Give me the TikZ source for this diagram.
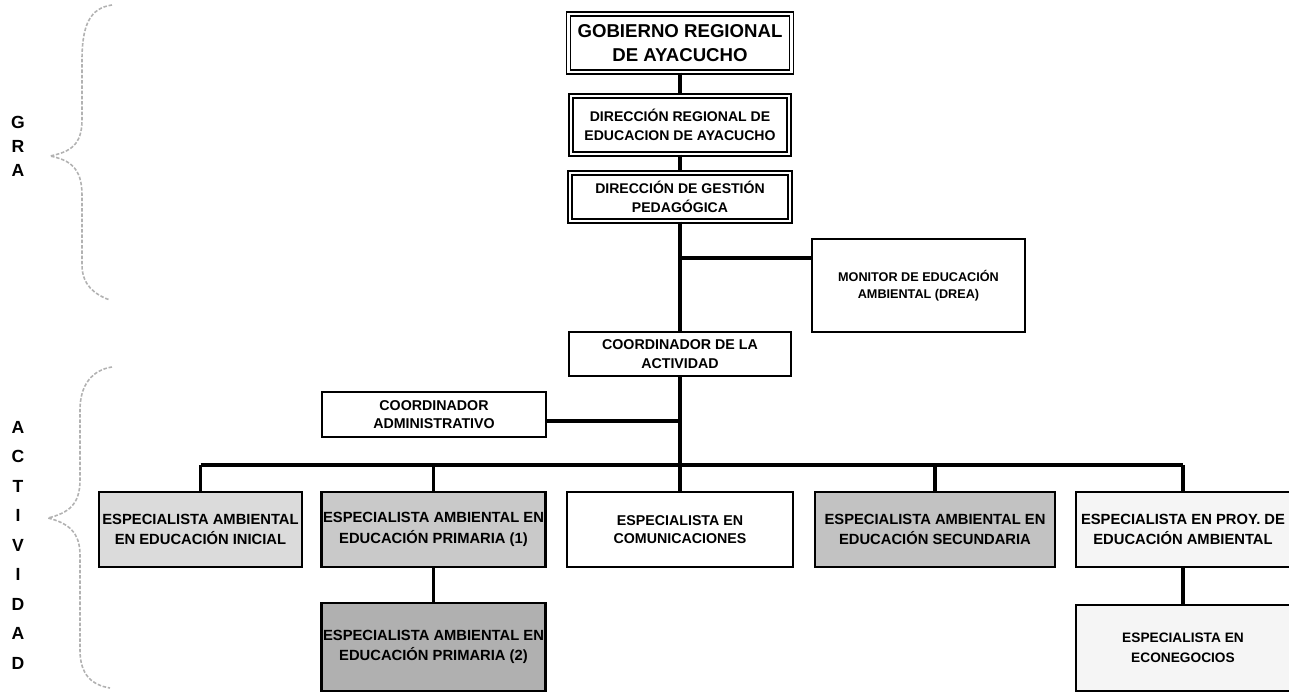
\documentclass[tikz,border=0pt]{standalone}
\usepackage{fontspec}
\setmainfont{Liberation Sans}
\begin{document}
\begin{tikzpicture}[x=0.02cm,y=-0.02cm,
  box/.style={draw=black,line width=1.6pt,align=center,inner sep=1pt,
     font=\fontsize{8.1}{10.5}\selectfont\bfseries},
  spec/.style={box,font=\fontsize{8.4}{11.6}\selectfont\bfseries},
  dbox/.style={draw=black,line width=0.7pt,double,double distance=1.6pt,align=center,inner sep=1pt,
     font=\fontsize{8}{10.6}\selectfont\bfseries},
  link/.style={line width=2.2pt},
  brace/.style={draw=gray!60,line width=0.9pt,dash pattern=on 2pt off 1pt},
  side/.style={font=\fontsize{10}{11}\selectfont\bfseries}]
\useasboundingbox (0,0) rectangle (1289,691);
% top chain
\node[dbox,minimum width=223*0.02cm,minimum height=58*0.02cm,
  font=\fontsize{10.6}{14}\selectfont\bfseries] (gob) at (680,43) {GOBIERNO REGIONAL\\DE AYACUCHO};
\node[dbox,minimum width=218*0.02cm,minimum height=58*0.02cm] (dre) at (680,125) {DIRECCIÓN REGIONAL DE\\EDUCACION DE AYACUCHO};
\node[dbox,minimum width=220*0.02cm,minimum height=48*0.02cm] (dgp) at (680,197) {DIRECCIÓN DE GESTIÓN\\PEDAGÓGICA};
\node[box,minimum width=213*0.02cm,minimum height=93*0.02cm,
  font=\fontsize{7.2}{10}\selectfont\bfseries] (mon) at (918.5,285.5) {MONITOR DE EDUCACIÓN\\AMBIENTAL (DREA)};
\node[box,minimum width=222*0.02cm,minimum height=44*0.02cm] (coord) at (680,354) {COORDINADOR DE LA\\ACTIVIDAD};
\node[box,minimum width=224*0.02cm,minimum height=45*0.02cm] (adm) at (434,414.5) {COORDINADOR\\ADMINISTRATIVO};
% specialists
\node[spec,fill=gray!28,minimum width=203*0.02cm,minimum height=75*0.02cm] (e1) at (200.5,529.5) {ESPECIALISTA AMBIENTAL\\EN EDUCACIÓN INICIAL};
\node[spec,fill=gray!42,minimum width=223*0.02cm,minimum height=75*0.02cm] (e2) at (433.5,529.5) {ESPECIALISTA AMBIENTAL EN\\EDUCACIÓN PRIMARIA (1)};
\node[box,minimum width=226*0.02cm,minimum height=75*0.02cm] (e3) at (680,529.5) {ESPECIALISTA EN\\COMUNICACIONES};
\node[spec,fill=gray!48,minimum width=240*0.02cm,minimum height=75*0.02cm] (e4) at (935,529.5) {ESPECIALISTA AMBIENTAL EN\\EDUCACIÓN SECUNDARIA};
\node[spec,fill=gray!8,minimum width=214*0.02cm,minimum height=75*0.02cm] (e5) at (1183,529.5) {ESPECIALISTA EN PROY. DE\\EDUCACIÓN AMBIENTAL};
\node[spec,fill=gray!62,minimum width=223*0.02cm,minimum height=88*0.02cm] (e2b) at (433.5,647) {ESPECIALISTA AMBIENTAL EN\\EDUCACIÓN PRIMARIA (2)};
\node[box,fill=gray!8,minimum width=214*0.02cm,minimum height=86*0.02cm,
  font=\fontsize{7.8}{11.2}\selectfont\bfseries] (econ) at (1183,648) {ESPECIALISTA EN\\ECONEGOCIOS};
% connectors
\draw[link] (gob.south) -- (dre.north);
\draw[link] (dre.south) -- (dgp.north);
\draw[link] (dgp.south) -- (coord.north);
\coordinate (mj) at (680,258);
\draw[link] (mj) -- (mj -| mon.west);
\coordinate (aj) at (680,421);
\draw[link] (aj) -- (aj -| adm.east);
\draw[link] (coord.south) -- (e3.north);
\coordinate (bar) at (680,465);
\draw[link] (e1.north |- bar) -- (e5.north |- bar);
\draw[link] (e1.north |- bar) -- (e1.north);
\draw[link] (e2.north |- bar) -- (e2.north);
\draw[link] (e4.north |- bar) -- (e4.north);
\draw[link] (e5.north |- bar) -- (e5.north);
\draw[link] (e2.south) -- (e2b.north);
\draw[link] (e5.south) -- (econ.north);
% braces
\draw[brace] (112,5) .. controls (90,8) and (82,25) .. (82,60) -- (82,120)
  .. controls (82,145) and (70,152) .. (50,156)
  .. controls (70,160) and (82,168) .. (82,195) -- (82,265)
  .. controls (82,285) and (95,295) .. (110,300);
\draw[brace] (112,367) .. controls (92,370) and (80,385) .. (80,410) -- (80,480)
  .. controls (80,505) and (68,513) .. (48,518)
  .. controls (68,523) and (80,532) .. (80,555) -- (80,650)
  .. controls (80,675) and (92,685) .. (110,688);
% side labels
\node[side] (g1) at (18,122) {G};
\node[side] (g2) at (18,146) {R};
\node[side] (g3) at (18,170) {A};
\node[side] (a1) at (18,427) {A};
\node[side] (a2) at (18,456) {C};
\node[side] (a3) at (18,486) {T};
\node[side] (a4) at (18,515) {I};
\node[side] (a5) at (18,545) {V};
\node[side] (a6) at (18,574) {I};
\node[side] (a7) at (18,604) {D};
\node[side] (a8) at (18,633) {A};
\node[side] (a9) at (18,663) {D};
\end{tikzpicture}
\end{document}
